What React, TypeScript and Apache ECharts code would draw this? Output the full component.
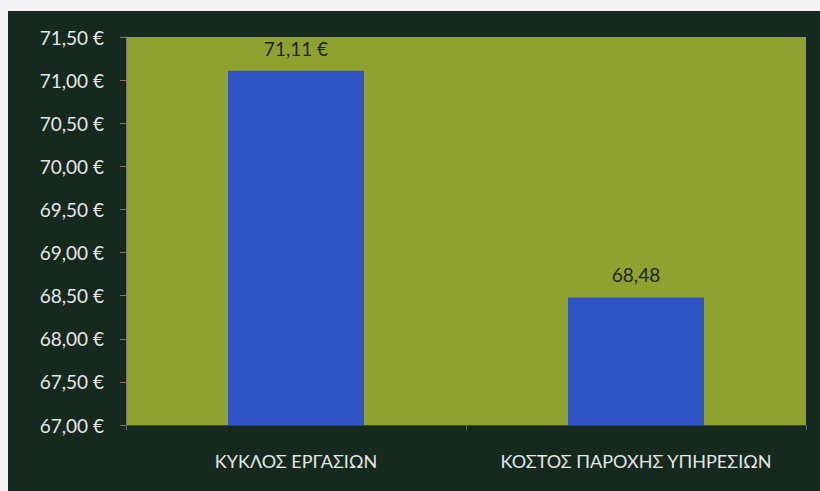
import React, { useEffect, useRef } from "react";
import * as echarts from "echarts";

const categories = ["ΚΥΚΛΟΣ ΕΡΓΑΣΙΩΝ", "ΚΟΣΤΟΣ ΠΑΡΟΧΗΣ ΥΠΗΡΕΣΙΩΝ"];
const values = [71.11, 68.48];
const valueLabels = ["71,11 €", "68,48"];
const yMin = 67;
const yMax = 71.5;
const yStep = 0.5;

const fmtEuro = (v: number) => v.toFixed(2).replace(".", ",") + " €";

export default function App() {
  const ref = useRef<HTMLDivElement>(null);
  useEffect(() => {
    if (!ref.current) return;
    const chart = echarts.init(ref.current, undefined, { renderer: "svg" });
    chart.setOption({
      animation: false,
      backgroundColor: "#15291e",
      textStyle: { fontFamily: "Lato" },
      grid: {
        left: 118,
        right: 14,
        top: 26,
        bottom: 66,
        show: true,
        backgroundColor: "#8fa22f",
        borderWidth: 0,
      },
      xAxis: {
        type: "category",
        data: categories,
        axisLine: { show: true, lineStyle: { color: "#4a4438", width: 1 } },
        axisTick: { show: true, length: 5, lineStyle: { color: "#6a6a6a" } },
        axisLabel: {
          color: "#e6e6e6",
          fontSize: 18,
          margin: 27,
          interval: 0,
          hideOverlap: false,
          fontFamily: "Lato",
        },
      },
      yAxis: {
        type: "value",
        min: yMin,
        max: yMax,
        interval: yStep,
        splitLine: { show: false },
        axisLine: { show: true, lineStyle: { color: "#7a7a6a", width: 1 } },
        axisTick: { show: true, length: 6, lineStyle: { color: "#7a7a7a" } },
        axisLabel: {
          color: "#e6e6e6",
          fontSize: 19,
          margin: 22,
          fontFamily: "Lato",
          formatter: (v: number) => fmtEuro(v),
        },
      },
      series: [
        {
          type: "bar",
          data: values,
          barCategoryGap: "60%",
          itemStyle: { color: "#2f52c4" },
          label: {
            show: true,
            position: "top",
            distance: 13,
            color: "#222222",
            fontSize: 19,
            fontFamily: "Lato",
            formatter: (p: any) => valueLabels[p.dataIndex],
          },
        },
      ],
    });
    return () => chart.dispose();
  }, []);
  return (
    <div
      style={{
        position: "fixed",
        left: 0,
        top: 0,
        width: 820,
        height: 491,
        background: "#f4f4f6",
      }}
    >
      <div
        ref={ref}
        style={{ position: "absolute", left: 8, top: 11, width: 812, height: 480 }}
      />
    </div>
  );
}
